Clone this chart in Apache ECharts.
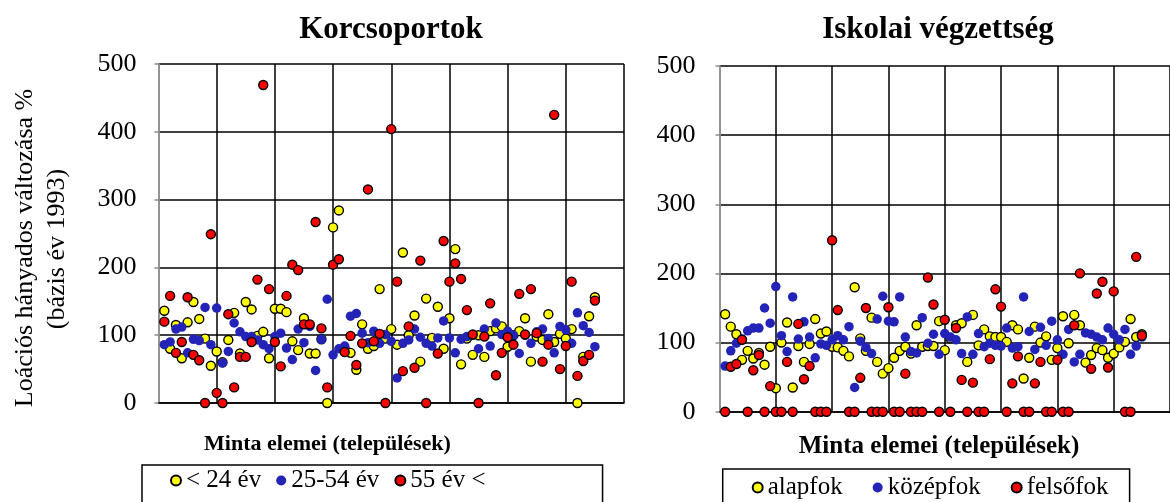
<!DOCTYPE html>
<html>
<head>
<meta charset="utf-8">
<script src="https://cdn.jsdelivr.net/npm/echarts@6/dist/echarts.min.js"></script>
<style>
html,body{margin:0;padding:0;background:#fff;}
#chart{width:1170px;height:502px;}
</style>
</head>
<body>
<div id="chart"></div>
<script>
// ---- data ----
const titleLeft = 'Korcsoportok';
const titleRight = 'Iskolai végzettség';
const xAxisName = 'Minta elemei (települések)';
const yAxisName1 = 'Loációs hányados változása %';
const yAxisName2 = '(bázis év 1993)';
const yTicks = [0, 100, 200, 300, 400, 500];

const leftNames = ['< 24 év', '25-54 év', '55 év <'];
const rightNames = ['alapfok', 'középfok', 'felsőfok'];

// Korcsoportok
const ageYoung = [136,80,115,66,119,149,124,95,55,76, 60,93,133,73,149,138,99,105,66,139,
  139,134,91,78,125,73,73,94,0,259, 284,80,74,49,116,80,84,168,95,109,
  86,222,100,129,61,154,96,142,80,125, 227,57,95,71,100,68,106,110,113,83,
  100,106,125,61,98,93,131,90,102,95, 109,0,68,128,156];
const ageMiddle = [86,90,109,112,74,94,92,141,86,140, 59,76,118,105,98,98,93,86,80,98,
  103,81,64,109,89,113,48,94,153,71, 80,84,128,132,103,89,106,88,101,91,
  37,88,93,109,97,88,84,96,121,96, 74,94,98,100,80,109,84,118,101,106,
  100,73,100,88,105,109,95,74,113,108, 88,133,114,104,83];
const ageOld = [120,158,74,90,156,71,63,0,249,15, 0,131,23,68,68,90,182,469,168,90,
  54,158,204,196,116,116,267,110,23,204, 212,75,99,56,88,315,91,102,0,404,
  179,47,113,52,210,0,null,73,239,179, 206,183,137,101,0,98,147,41,74,97,
  86,161,101,168,103,61,86,425,50,84, 179,40,62,71,151];

// Iskolai végzettség
const eduBasic = [141,123,112,75,88,77,85,68,94,34, 100,129,35,95,72,98,134,113,116,94,
  93,88,80,180,106,88,136,72,55,63, 78,88,94,84,125,94,95,95,131,89,
  106,125,128,72,140,96,119,109,108,108, 101,125,119,48,78,123,100,109,75,92,
  138,99,140,125,71,82,92,89,78,84, 93,101,134,108,112];
const eduMiddle = [66,88,99,105,117,121,121,150,128,181, 110,87,166,105,130,108,78,98,96,104,
  110,104,123,35,102,93,84,134,167,131, 130,166,108,87,85,136,99,112,83,113,
  108,104,84,137,83,113,94,99,96,95, 121,92,94,166,116,90,122,96,131,104,
  83,119,72,83,114,112,108,104,121,112, 104,119,83,95,108];
const eduHigh = [0,65,69,104,0,60,82,0,37,0, 0,72,0,127,47,66,0,0,0,248,
  147,null,0,0,49,150,0,0,0,151, 0,0,55,0,0,0,194,155,0,133,
  0,121,46,0,42,0,0,76,177,152, 0,41,80,0,0,41,72,0,0,75,
  0,0,125,200,null,62,171,188,64,174, null,0,0,224,110];

// ---- chart ----
const FONT = "'Liberation Serif', 'Times New Roman', serif";
const YELLOW = '#ffff00', BLUE = '#2323b8', RED = '#ff0000';

function toPoints(arr) {
  return arr.map((v, i) => [i + 1, v]);
}

function xAxis(gridIndex) {
  return {
    type: 'value', gridIndex, min: 0, max: 80, interval: 10,
    axisLine: {show: true, onZero: false, lineStyle: {color: '#000', width: 1.5}},
    axisTick: {show: false}, axisLabel: {show: false},
    splitLine: {show: true, lineStyle: {color: ['#8c8c8c','#000','#000','#000','#000','#000','#000','#000','#000'], width: 1.5}}
  };
}
function yAxis(gridIndex, margin) {
  return {
    type: 'value', gridIndex, min: 0, max: 500, interval: 100,
    axisLine: {show: true, lineStyle: {color: '#8c8c8c', width: 1.5}},
    axisTick: {show: true, length: 4, inside: false, lineStyle: {color: '#8c8c8c', width: 1.5}},
    axisLabel: {show: true, margin, color: '#000', fontFamily: FONT, fontSize: 26,
      formatter: v => (yTicks.indexOf(v) >= 0 ? String(v) : '')},
    splitLine: {show: true, lineStyle: {color: '#000', width: 1.5}}
  };
}
function ser(name, arr, color, gi, border) {
  return {
    type: 'scatter', name, xAxisIndex: gi, yAxisIndex: gi,
    data: toPoints(arr), symbol: 'circle', symbolSize: border ? 9 : 9.5, clip: false,
    itemStyle: {color, borderColor: border ? '#000' : color, borderWidth: border ? 1.4 : 0, opacity: 1},
    emphasis: {disabled: true}
  };
}
function txt(text, x, y, size, bold, rot) {
  return {
    type: 'text', x, y, rotation: rot || 0, silent: true,
    style: {text, fill: '#000', fontFamily: FONT, fontSize: size, fontWeight: bold ? 'bold' : 'normal',
      textAlign: 'center', textVerticalAlign: 'middle', align: 'center', verticalAlign: 'middle'}
  };
}

const chart = echarts.init(document.getElementById('chart'), null, {renderer: 'canvas'});
chart.setOption({
  animation: false,
  backgroundColor: '#fff',
  textStyle: {fontFamily: FONT},
  grid: [
    {left: 158.5, right: 546, top: 64, bottom: 99},
    {left: 719.5, right: -9.1, top: 66, bottom: 90.3}
  ],
  xAxis: [xAxis(0), xAxis(1)],
  yAxis: [yAxis(0, 22), yAxis(1, 24)],
  legend: [
    {data: leftNames, left: 142, top: 465, icon: 'circle', itemWidth: 10, itemHeight: 10, itemGap: 15,
      borderColor: '#000', borderWidth: 1.5, padding: [3, 117, 14, 28],
      textStyle: {fontFamily: FONT, fontSize: 25, color: '#000'}, selectedMode: false},
    {data: rightNames, left: 722.7, top: 469, icon: 'circle', itemWidth: 10, itemHeight: 10, itemGap: 30,
      borderColor: '#000', borderWidth: 1.5, padding: [6, 21, 14, 29],
      textStyle: {fontFamily: FONT, fontSize: 25, color: '#000'}, selectedMode: false}
  ],
  graphic: [
    txt(titleLeft, 391, 30, 31, true),
    txt(titleRight, 938, 30, 31, true),
    txt(xAxisName, 327.5, 444, 22, true),
    txt(xAxisName, 939, 447, 25, true),
    txt(yAxisName1, 25, 248, 26, false, Math.PI / 2),
    txt(yAxisName2, 57, 249, 26, false, Math.PI / 2)
  ],
  series: [
    ser(leftNames[0], ageYoung, YELLOW, 0, true),
    ser(leftNames[1], ageMiddle, BLUE, 0, false),
    ser(leftNames[2], ageOld, RED, 0, true),
    ser(rightNames[0], eduBasic, YELLOW, 1, true),
    ser(rightNames[1], eduMiddle, BLUE, 1, false),
    ser(rightNames[2], eduHigh, RED, 1, true)
  ]
});
</script>
</body>
</html>
